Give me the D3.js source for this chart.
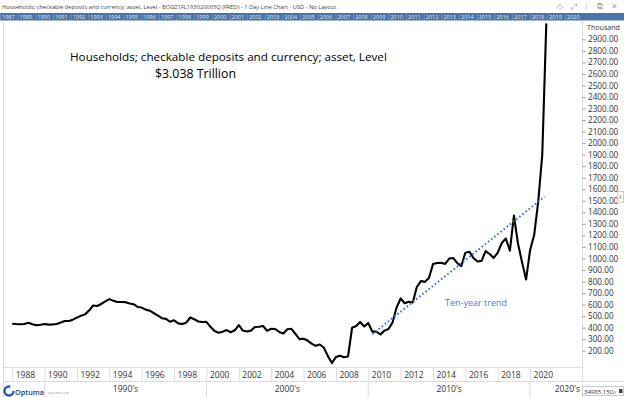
<!DOCTYPE html>
<html>
<head>
<meta charset="utf-8">
<script src="https://cdn.jsdelivr.net/npm/d3@7/dist/d3.min.js"></script>
<style>
  html, body { margin: 0; padding: 0; background: #fff; }
  svg { display: block; font-family: "Open Sans", "Noto Sans", sans-serif; }
</style>
</head>
<body>
<svg id="chart"></svg>
<script>
// Quarterly values (thousand), 1988 Q1 .. 2021 Q1
const startYear = 1988;
const quarterlyValues = [
  434, 431, 429, 432,   442, 429, 420, 425,   431, 426, 428, 431,
  444, 458, 458, 469,   487, 503, 515, 548,   592, 588, 605, 628,
  647, 633, 622, 622,   621, 609, 603, 579,   574, 556, 547, 526,
  504, 482, 476, 451,   464, 437, 431, 443,   488, 473, 453, 449,
  450, 407, 371, 356,   364, 379, 360, 377,   422, 375, 367, 374,
  405, 408, 414, 373,   390, 388, 362, 349,   386, 390, 346, 300,
  303, 288, 262, 242,   254, 228, 155, 93,    145, 157, 143, 150,
  399, 414, 449, 410,   440, 365, 365, 341,   374, 388, 444, 575,
  653, 611, 625, 618,   752, 804, 797, 830,   951, 960, 963, 952,
  999, 1004, 960, 934,  1050, 1058, 1004, 973, 979, 1064, 1038, 1004,
  1051, 1134, 1173, 1067, 1372, 1129, 968, 817, 1073, 1203, 1492, 1897,
  3038
];

// Ten-year trend end points
const trendYears = [2010.25, 2020.9];
const trendValues = [342, 1535];

// Axis labels
const yTicks = d3.range(200, 3000, 100);
const xTickYears = d3.range(1988, 2021, 2);
const decades = [1990, 2000, 2010, 2020];
const navYears = [1987].concat(d3.range(1989, 2021));

const titleText = 'Households; checkable deposits and currency; asset, Level';
const subtitleText = '$3.038 Trillion';
const headerText = 'Households; checkable deposits and currency; asset, Level - BOGZ1FL193020005Q (FRED) - 1 Day Line Chart - USD - No Layout';

const W = 624, H = 397;
const plotTop = 21, plotBottom = 367.5, axisX = 582.5;

const svg = d3.select('#chart').attr('width', W).attr('height', H);

const data = quarterlyValues.map((v, i) => ({ t: startYear + i / 4, v }));

const x = d3.scaleLinear().domain([1988, 2021]).range([12.2, 546.3]);
const y = d3.scaleLinear().domain([200, 2900]).range([350.7, 39.3]);

// helper: scale font so text fills a width
function fit(sel, width) {
  const len = sel.node().getComputedTextLength();
  const fs = parseFloat(sel.attr('font-size'));
  sel.attr('font-size', (fs * width / len).toFixed(2));
}

// header
svg.append('text')
  .attr('x', 2).attr('y', 8.5)
  .attr('font-size', 7).attr('fill', '#444')
  .text(headerText)
  .call(fit, 335);

const icons = [['◇', 557], ['⤢', 571], ['⁝', 585], ['⧉', 597], ['✕', 611]];
svg.selectAll('.icon').data(icons).join('text')
  .attr('class', 'icon')
  .attr('x', d => d[1]).attr('y', 9)
  .attr('font-size', 8).attr('fill', '#aaa')
  .attr('font-family', 'DejaVu Sans')
  .text(d => d[0]);

// navigator band
svg.append('rect').attr('x', 0).attr('y', 13).attr('width', W).attr('height', 7.5).attr('fill', '#4b75a4');
const navX = d3.scaleLinear().domain([0, navYears.length - 1]).range([2, 567]);
svg.selectAll('.nav').data(navYears).join('text')
  .attr('class', 'nav')
  .attr('x', (d, i) => navX(i)).attr('y', 19)
  .attr('font-size', 5.5).attr('fill', '#dde6f1')
  .text(d => d);
svg.selectAll('.navsep').data(navYears).join('line')
  .attr('class', 'navsep')
  .attr('x1', (d, i) => navX(i) - 1.5).attr('x2', (d, i) => navX(i) - 1.5)
  .attr('y1', 14).attr('y2', 20)
  .attr('stroke', '#8aa6c8').attr('stroke-width', 0.6);

// frame lines
const frame = svg.append('g').attr('stroke', '#dcdcdc').attr('stroke-width', 1);
frame.append('line').attr('x1', 3.5).attr('x2', 3.5).attr('y1', plotTop).attr('y2', H);
frame.append('line').attr('x1', axisX).attr('x2', axisX).attr('y1', plotTop).attr('y2', 381.5);
frame.append('line').attr('x1', 3.5).attr('x2', axisX).attr('y1', plotBottom).attr('y2', plotBottom);
frame.append('line').attr('x1', 3.5).attr('x2', W).attr('y1', 381.5).attr('y2', 381.5);

// x axis (two-year labels)
const xAxis = svg.append('g')
  .attr('transform', `translate(0,${plotBottom})`)
  .call(d3.axisBottom(x).tickValues(xTickYears).tickSize(14).tickFormat(d3.format('d')));
xAxis.select('.domain').remove();
xAxis.selectAll('line').attr('stroke', '#dcdcdc');
xAxis.selectAll('text')
  .attr('x', 3).attr('y', 10).attr('dy', 0)
  .attr('text-anchor', 'start')
  .attr('font-family', '"Open Sans", sans-serif')
  .attr('font-size', 8.5).attr('fill', '#333');

// decade row
svg.selectAll('.decsep').data(decades).join('line')
  .attr('class', 'decsep')
  .attr('x1', d => x(d)).attr('x2', d => x(d))
  .attr('y1', 381.5).attr('y2', H)
  .attr('stroke', '#dcdcdc');
svg.selectAll('.dec').data(decades.slice(0, 3)).join('text')
  .attr('class', 'dec')
  .attr('x', d => (x(d) + x(d + 10)) / 2).attr('y', 392)
  .attr('text-anchor', 'middle')
  .attr('font-size', 8.5).attr('fill', '#333')
  .text(d => `${d}'s`);
svg.append('text')
  .attr('x', 580).attr('y', 392)
  .attr('text-anchor', 'end')
  .attr('font-size', 8.5).attr('fill', '#333')
  .text("2020's");

// y axis on the right
const yAxis = svg.append('g')
  .attr('transform', `translate(${axisX},0)`)
  .call(d3.axisRight(y).tickValues(yTicks).tickSize(3).tickPadding(2.5).tickFormat(d3.format('.2f')));
yAxis.select('.domain').remove();
yAxis.selectAll('line').attr('stroke', '#999');
yAxis.selectAll('text')
  .attr('font-family', '"Open Sans", sans-serif')
  .attr('font-size', 8.2).attr('fill', '#333');
svg.append('text')
  .attr('x', 587).attr('y', 30)
  .attr('font-size', 8.5).attr('fill', '#333')
  .text('Thousand')
  .call(fit, 33);

// small collapse tab
svg.append('rect').attr('x', 617.5).attr('y', 191.5).attr('width', 6).attr('height', 11)
  .attr('fill', '#fff').attr('stroke', '#ccc');
svg.append('path').attr('d', 'M621.5,195 L619.5,197 L621.5,199')
  .attr('fill', 'none').attr('stroke', '#666').attr('stroke-width', 0.8);

// plot
svg.append('clipPath').attr('id', 'clip')
  .append('rect').attr('x', 4).attr('y', plotTop).attr('width', axisX - 4).attr('height', plotBottom - plotTop);
const plot = svg.append('g').attr('clip-path', 'url(#clip)');

const line = d3.line().x(d => x(d.t)).y(d => y(d.v));
plot.append('path')
  .datum(data)
  .attr('fill', 'none')
  .attr('stroke', '#000')
  .attr('stroke-width', 2.1)
  .attr('stroke-linejoin', 'round')
  .attr('d', line);

const trend = trendYears.map((t, i) => ({ t, v: trendValues[i] }));
plot.append('path')
  .datum(trend)
  .attr('fill', 'none')
  .attr('stroke', '#3d6fe3')
  .attr('stroke-width', 2)
  .attr('stroke-dasharray', '1.6,2.4')
  .attr('d', line);

// annotations
svg.append('text')
  .attr('x', 70).attr('y', 61)
  .attr('font-size', 14).attr('fill', '#000')
  .text(titleText)
  .call(fit, 317);
svg.append('text')
  .attr('x', 155).attr('y', 78)
  .attr('font-size', 14).attr('fill', '#000')
  .text(subtitleText)
  .call(fit, 81);
svg.append('text')
  .attr('x', 445).attr('y', 306)
  .attr('font-size', 11).attr('fill', '#4f79e6')
  .text('Ten-year trend')
  .call(fit, 62);

// logo
const logo = svg.append('g');
logo.append('circle').attr('cx', 9).attr('cy', 391).attr('r', 4.5)
  .attr('fill', 'none').attr('stroke', '#1f5fa8').attr('stroke-width', 2.4)
  .attr('stroke-dasharray', '22,6');
logo.append('text').attr('x', 15).attr('y', 395).attr('font-size', 9.5)
  .attr('fill', '#1b3f73').attr('font-weight', 600).text('Optuma')
  .call(fit, 29);
logo.append('text').attr('x', 48).attr('y', 394).attr('font-size', 3.5)
  .attr('fill', '#999').text('optuma.com');

// bottom-right readout
svg.append('rect').attr('x', 582.5).attr('y', 386.5).attr('width', 41).attr('height', 9)
  .attr('fill', '#fff').attr('stroke', '#ccc');
svg.append('text').attr('x', 584).attr('y', 393.5).attr('font-size', 6).attr('fill', '#333').text('34985.15C');
svg.append('text').attr('x', 612).attr('y', 393.5).attr('font-size', 4).attr('fill', '#666').text('XY');
svg.append('rect').attr('x', 619).attr('y', 389).attr('width', 3.5).attr('height', 4).attr('fill', '#444');
</script>
</body>
</html>
